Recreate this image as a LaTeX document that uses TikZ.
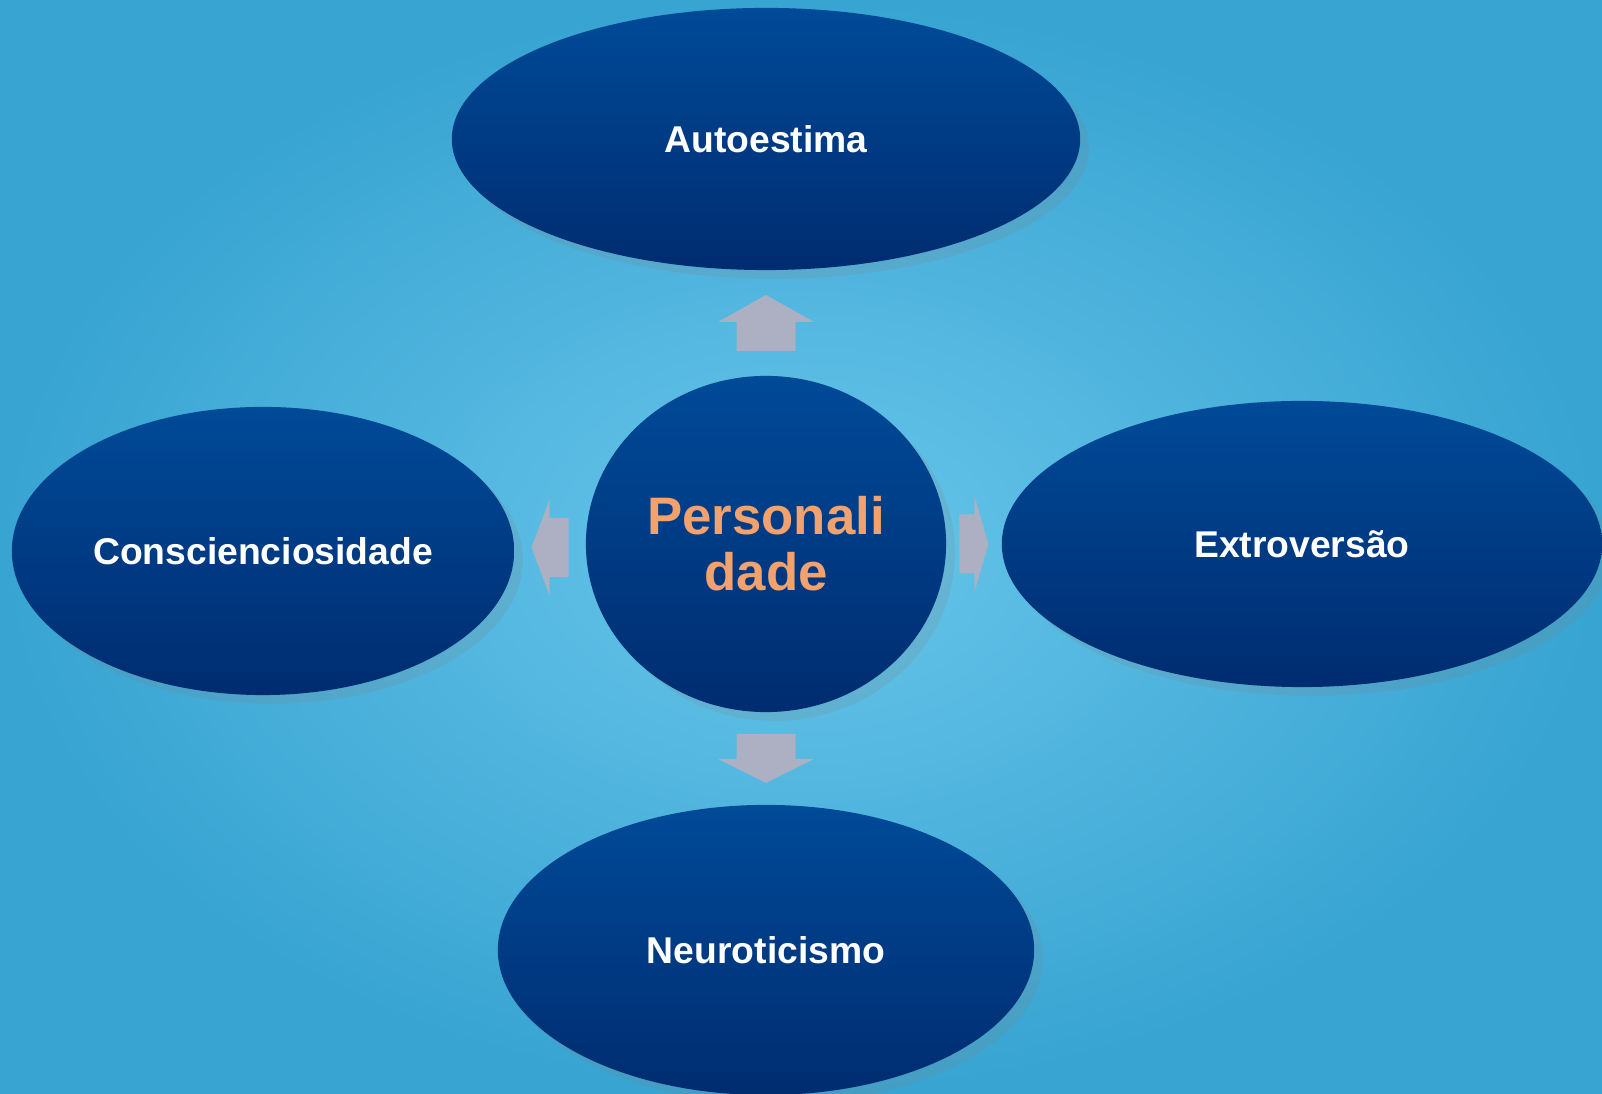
\documentclass[tikz,border=0pt]{standalone}
\usepackage{fontspec}
\setmainfont{Liberation Sans}
\usepackage{tikz}
\usetikzlibrary{positioning, shapes.geometric, calc, shadows}
\definecolor{bginner}{RGB}{104,198,234}
\definecolor{bgouter}{RGB}{56,164,210}
\definecolor{elltop}{RGB}{0,74,152}
\definecolor{ellbot}{RGB}{0,44,112}
\definecolor{arrowgray}{RGB}{172,176,194}
\definecolor{myorange}{RGB}{243,162,110}

% block arrow pointing along angle #2, centred at #1, length #3, head length #4
\newcommand{\blockarrow}[4]{%
  \begin{scope}[shift={(#1)}, rotate=#2]
    \fill[arrowgray] ({-#3/2},-29.5) -- ({#3/2-#4},-29.5) -- ({#3/2-#4},-48) -- ({#3/2},0)
      -- ({#3/2-#4},48) -- ({#3/2-#4},29.5) -- ({-#3/2},29.5) -- cycle;
  \end{scope}}

\begin{document}
\begin{tikzpicture}[x=0.01cm, y=0.01cm,
    trait/.style={ellipse, inner sep=0pt, top color=elltop, bottom color=ellbot,
        drop shadow={opacity=0.18, shadow xshift=2.5pt, shadow yshift=-2.5pt},
        text=white, font=\fontsize{10.6}{12}\selectfont\bfseries},
    core/.style={trait, text=myorange, align=center,
        font=\fontsize{15}{16}\selectfont\bfseries}
]

    % Background
    \shade[inner color=bginner, outer color=bgouter] (0,0) rectangle (1602,1094);
    \useasboundingbox (0,0) rectangle (1602,1094);

    % Central circle
    \node[core, minimum width=3.6cm, minimum height=3.36cm] (pers) at (766,550) {Personali\\dade};

    % Surrounding traits
    \node[trait, minimum width=6.28cm, minimum height=2.62cm] (auto) at (766,955) {Autoestima};
    \node[trait, minimum width=5.02cm, minimum height=2.88cm] (consc) at (263,543) {Conscienciosidade};
    \node[trait, minimum width=6.00cm, minimum height=2.86cm] (extro) at (1302,550) {Extroversão};
    \node[trait, minimum width=5.36cm, minimum height=2.90cm] (neuro) at (766,144) {Neuroticismo};

    % Arrow positions between the circle and the traits
    \coordinate (up_arr) at ($(pers.north)!0.5!(auto.south)$);
    \coordinate (down_arr) at ($(pers.south)!0.5!(neuro.north)$);
    \coordinate (left_arr) at ($(pers.west)!0.5!(consc.east)$);
    \coordinate (right_arr) at ($(pers.east)!0.5!(extro.west)$);

    % Block arrows
    \blockarrow{up_arr}{90}{56}{27}
    \blockarrow{down_arr}{-90}{49}{24}
    \blockarrow{left_arr}{180}{37}{18}
    \blockarrow{right_arr}{0}{29}{14}

\end{tikzpicture}
\end{document}
